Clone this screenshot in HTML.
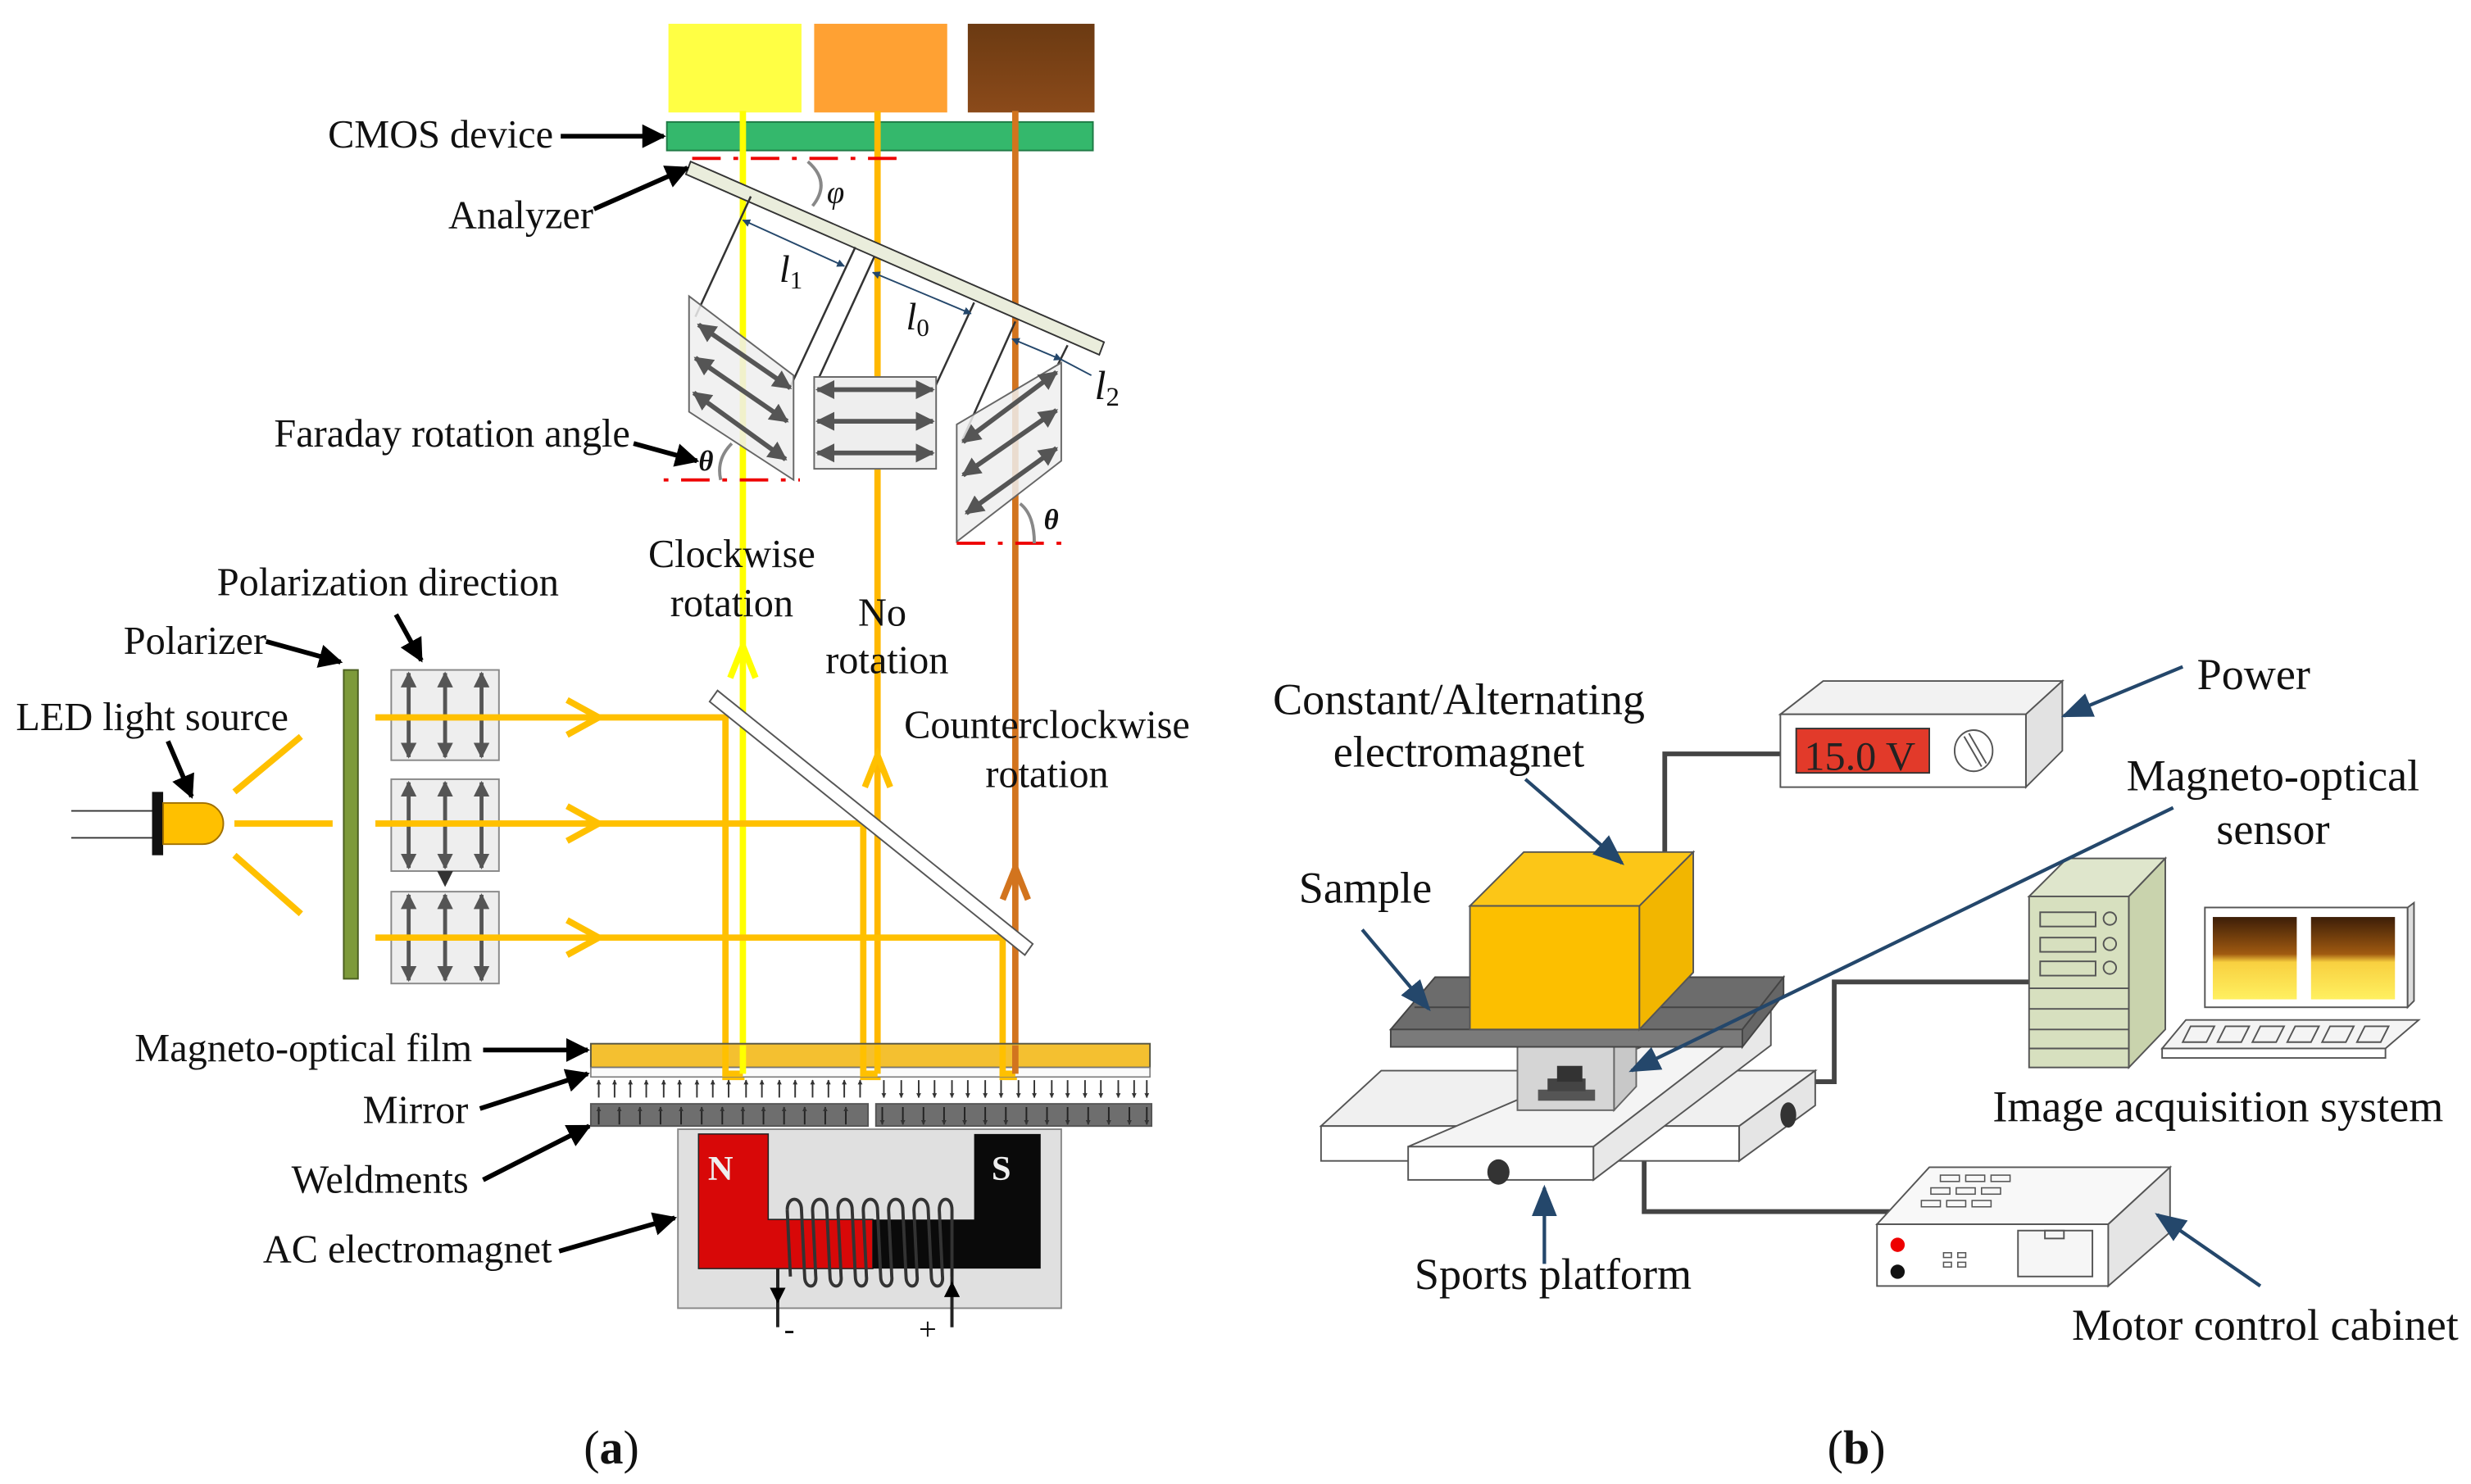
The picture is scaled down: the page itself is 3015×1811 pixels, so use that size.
<!DOCTYPE html>
<html><head><meta charset="utf-8"><style>
html,body{margin:0;padding:0;background:#fff}
svg{display:block}
text{font-family:"Liberation Serif",serif;fill:#111}
</style></head><body>
<svg width="3015" height="1811" viewBox="0 0 1560 937" xmlns="http://www.w3.org/2000/svg">
<defs>
<marker id="ab" viewBox="0 0 10 10" refX="9" refY="5" markerWidth="5" markerHeight="5" orient="auto-start-reverse"><path d="M0,0 L10,5 L0,10 z" fill="#000"/></marker>
<marker id="ag" viewBox="0 0 10 10" refX="9" refY="5" markerWidth="4" markerHeight="4" orient="auto-start-reverse"><path d="M0,0 L10,5 L0,10 z" fill="#555"/></marker>
<marker id="abl" viewBox="0 0 10 10" refX="9" refY="5" markerWidth="9" markerHeight="9" orient="auto-start-reverse"><path d="M0,1 L10,5 L0,9 z" fill="#24476b"/></marker>
<marker id="ad" viewBox="0 0 10 10" refX="9" refY="5" markerWidth="5" markerHeight="5" orient="auto-start-reverse"><path d="M0,0 L10,5 L0,10 z" fill="#24476b"/></marker>
<marker id="as" viewBox="0 0 10 10" refX="9" refY="5" markerWidth="3" markerHeight="3" orient="auto-start-reverse"><path d="M0,0 L10,5 L0,10 z" fill="#333"/></marker>
<linearGradient id="br" x1="0" y1="0" x2="0" y2="1"><stop offset="0" stop-color="#6b3a12"/><stop offset="1" stop-color="#8b4a1a"/></linearGradient>
<linearGradient id="scr" x1="0" y1="0" x2="0" y2="1"><stop offset="0" stop-color="#3d1e08"/><stop offset="0.45" stop-color="#a05a10"/><stop offset="0.55" stop-color="#f8d040"/><stop offset="1" stop-color="#fff060"/></linearGradient>
</defs>

<!-- ===== Panel (a) ===== -->
<rect x="422" y="15" width="84" height="56" fill="#ffff44"/>
<rect x="514" y="15" width="84" height="56" fill="#ffa133"/>
<rect x="611" y="15" width="80" height="56" fill="url(#br)"/>
<rect x="421" y="77" width="269" height="18" fill="#34b86c" stroke="#1e7a45" stroke-width="1"/>

<line x1="469" y1="70" x2="469" y2="680" stroke="#ffff00" stroke-width="4"/>
<line x1="554" y1="70" x2="554" y2="680" stroke="#ffb800" stroke-width="4"/>
<line x1="641" y1="70" x2="641" y2="680" stroke="#d2741e" stroke-width="4"/>

<line x1="437" y1="100" x2="568" y2="100" stroke="#e00" stroke-width="2" stroke-dasharray="18,8,3,8"/>
<path d="M510,102 Q525,115 513,130" fill="none" stroke="#888" stroke-width="2"/>
<text x="522" y="128" font-size="20" font-style="italic">φ</text>

<polygon points="436,102 697,216 694,224 433,110" fill="#eaeddc" stroke="#333" stroke-width="1"/>

<g stroke="#333" stroke-width="1.3" fill="none">
<line x1="474" y1="124" x2="439" y2="200"/>
<line x1="540" y1="156" x2="499" y2="244"/>
<line x1="552" y1="162" x2="514" y2="245"/>
<line x1="615" y1="191" x2="590" y2="245"/>
<line x1="641" y1="203" x2="607" y2="279"/>
<line x1="674" y1="218" x2="668" y2="230"/>
</g>
<line x1="469" y1="139" x2="533" y2="168" stroke="#24476b" stroke-width="1" marker-start="url(#ad)" marker-end="url(#ad)"/>
<line x1="551" y1="172" x2="613" y2="198" stroke="#24476b" stroke-width="1" marker-start="url(#ad)" marker-end="url(#ad)"/>
<line x1="639" y1="214" x2="670" y2="227" stroke="#24476b" stroke-width="1" marker-start="url(#ad)" marker-end="url(#ad)"/>
<line x1="670" y1="227" x2="689" y2="237" stroke="#24476b" stroke-width="1"/>
<text x="492" y="178" font-size="24" font-style="italic">l<tspan font-size="16" dy="4" font-style="normal">1</tspan></text>
<text x="572" y="208" font-size="24" font-style="italic">l<tspan font-size="16" dy="4" font-style="normal">0</tspan></text>
<text x="691" y="252" font-size="26" font-style="italic">l<tspan font-size="17" dy="4" font-style="normal">2</tspan></text>

<polygon points="435,187 501,237 501,303 435,260" fill="#eeeeee" fill-opacity="0.85" stroke="#666" stroke-width="1"/>
<g stroke="#555" stroke-width="3" marker-start="url(#ag)" marker-end="url(#ag)">
<line x1="441" y1="205" x2="499" y2="245"/>
<line x1="439" y1="226" x2="497" y2="266"/>
<line x1="438" y1="248" x2="496" y2="290"/>
</g>
<rect x="514" y="238" width="77" height="58" fill="#eeeeee" stroke="#666" stroke-width="1"/>
<g stroke="#555" stroke-width="3" marker-start="url(#ag)" marker-end="url(#ag)">
<line x1="516" y1="246" x2="589" y2="246"/>
<line x1="516" y1="266" x2="589" y2="266"/>
<line x1="516" y1="286" x2="589" y2="286"/>
</g>
<polygon points="604,268 670,229 670,291 604,342" fill="#eeeeee" fill-opacity="0.85" stroke="#666" stroke-width="1"/>
<g stroke="#555" stroke-width="3" marker-start="url(#ag)" marker-end="url(#ag)">
<line x1="608" y1="279" x2="667" y2="235"/>
<line x1="608" y1="300" x2="667" y2="259"/>
<line x1="610" y1="324" x2="667" y2="283"/>
</g>
<line x1="419" y1="303" x2="505" y2="303" stroke="#e00" stroke-width="2" stroke-dasharray="3,8,18,8"/>
<path d="M455,303 Q452,290 462,280" fill="none" stroke="#888" stroke-width="2"/>
<text x="441" y="297" font-size="18" font-style="italic" font-weight="bold">θ</text>
<line x1="604" y1="343" x2="677" y2="343" stroke="#e00" stroke-width="2" stroke-dasharray="18,8,3,8"/>
<path d="M653,343 Q653,325 644,318" fill="none" stroke="#888" stroke-width="2"/>
<text x="659" y="334" font-size="18" font-style="italic" font-weight="bold">θ</text>

<g font-size="25">
<text x="207" y="93">CMOS device</text>
<text x="283" y="144">Analyzer</text>
<text x="173" y="282">Faraday rotation angle</text>
<text x="462" y="358" text-anchor="middle">Clockwise</text>
<text x="462" y="389" text-anchor="middle">rotation</text>
<text x="557" y="395" text-anchor="middle">No</text>
<text x="560" y="425" text-anchor="middle">rotation</text>
<text x="661" y="466" text-anchor="middle">Counterclockwise</text>
<text x="661" y="497" text-anchor="middle">rotation</text>
<text x="137" y="376">Polarization direction</text>
<text x="78" y="413">Polarizer</text>
<text x="10" y="461">LED light source</text>
<text x="85" y="670">Magneto-optical film</text>
<text x="229" y="709">Mirror</text>
<text x="184" y="753">Weldments</text>
<text x="166" y="797">AC electromagnet</text>
</g>
<g stroke="#000" stroke-width="3" marker-end="url(#ab)">
<line x1="354" y1="86" x2="419" y2="86"/>
<line x1="375" y1="132" x2="434" y2="106"/>
<line x1="400" y1="280" x2="440" y2="291"/>
<line x1="250" y1="388" x2="266" y2="417"/>
<line x1="168" y1="405" x2="215" y2="418"/>
<line x1="106" y1="468" x2="121" y2="503"/>
<line x1="305" y1="663" x2="371" y2="663"/>
<line x1="303" y1="700" x2="371" y2="678"/>
<line x1="305" y1="745" x2="372" y2="711"/>
<line x1="353" y1="790" x2="426" y2="769"/>
</g>

<line x1="45" y1="512" x2="98" y2="512" stroke="#333" stroke-width="1"/>
<line x1="45" y1="529" x2="98" y2="529" stroke="#333" stroke-width="1"/>
<rect x="96" y="500" width="7" height="40" fill="#111"/>
<path d="M103,507 H128 A13,13 0 0 1 128,533 H103 Z" fill="#ffc000" stroke="#a07000" stroke-width="1"/>
<g stroke="#ffc000" stroke-width="4">
<line x1="148" y1="500" x2="190" y2="465"/>
<line x1="148" y1="520" x2="210" y2="520"/>
<line x1="148" y1="540" x2="190" y2="577"/>
</g>
<rect x="217" y="423" width="9" height="195" fill="#7d9a3a" stroke="#4a5e20" stroke-width="1"/>

<g>
<rect x="247" y="423" width="68" height="57" fill="#eee" stroke="#888"/>
<rect x="247" y="492" width="68" height="58" fill="#eee" stroke="#888"/>
<rect x="247" y="563" width="68" height="58" fill="#eee" stroke="#888"/>
</g>
<g stroke="#555" stroke-width="2.5" marker-start="url(#ag)" marker-end="url(#ag)">
<line x1="258" y1="425" x2="258" y2="478"/><line x1="281" y1="425" x2="281" y2="478"/><line x1="304" y1="425" x2="304" y2="478"/>
<line x1="258" y1="494" x2="258" y2="548"/><line x1="281" y1="494" x2="281" y2="548"/><line x1="304" y1="494" x2="304" y2="548"/>
<line x1="258" y1="565" x2="258" y2="619"/><line x1="281" y1="565" x2="281" y2="619"/><line x1="304" y1="565" x2="304" y2="619"/>
</g>
<polygon points="276,550 286,550 281,560" fill="#333"/>

<g stroke="#ffc000" stroke-width="4" fill="none">
<polyline points="237,453 458,453 458,680 470,680"/>
<polyline points="237,520 545,520 545,680 556,680"/>
<polyline points="237,592 633,592 633,680 642,680"/>
<polyline points="358,442 378,453 358,464"/>
<polyline points="358,509 378,520 358,531"/>
<polyline points="358,581 378,592 358,603"/>
</g>
<polygon points="453,436 652,596 647,603 448,443" fill="#fff" stroke="#555" stroke-width="1"/>
<g fill="none" stroke-width="4">
<polyline points="461,428 469,408 477,428" stroke="#ffff00"/>
<polyline points="546,497 554,477 562,497" stroke="#ffc000"/>
<polyline points="633,568 641,548 649,568" stroke="#d2741e"/>
</g>

<rect x="373" y="659" width="353" height="15" fill="#f4c030" stroke="#554" stroke-width="1"/>
<rect x="373" y="674" width="353" height="6" fill="#fafafa" stroke="#777" stroke-width="0.8"/>
<g stroke="#ffc000" stroke-width="4" fill="none">
<polyline points="458,660 458,678 469,678"/><polyline points="545,660 545,678 554,678"/><polyline points="633,660 633,678 641,678"/>
</g>
<line x1="469" y1="660" x2="469" y2="678" stroke="#ffff00" stroke-width="4"/>
<line x1="554" y1="660" x2="554" y2="678" stroke="#ffc000" stroke-width="4"/>
<line x1="641" y1="660" x2="641" y2="678" stroke="#d2741e" stroke-width="4"/>
<g stroke="#333" stroke-width="1" marker-end="url(#as)">
<line x1="378" y1="693" x2="378" y2="682"/><line x1="388" y1="693" x2="388" y2="682"/><line x1="398" y1="693" x2="398" y2="682"/><line x1="408" y1="693" x2="408" y2="682"/><line x1="419" y1="693" x2="419" y2="682"/><line x1="429" y1="693" x2="429" y2="682"/><line x1="440" y1="693" x2="440" y2="682"/><line x1="450" y1="693" x2="450" y2="682"/><line x1="460" y1="693" x2="460" y2="682"/><line x1="471" y1="693" x2="471" y2="682"/><line x1="481" y1="693" x2="481" y2="682"/><line x1="492" y1="693" x2="492" y2="682"/><line x1="502" y1="693" x2="502" y2="682"/><line x1="513" y1="693" x2="513" y2="682"/><line x1="523" y1="693" x2="523" y2="682"/><line x1="533" y1="693" x2="533" y2="682"/><line x1="543" y1="693" x2="543" y2="682"/>
</g>
<g stroke="#333" stroke-width="1" marker-end="url(#as)">
<line x1="558" y1="682" x2="558" y2="693"/><line x1="569" y1="682" x2="569" y2="693"/><line x1="580" y1="682" x2="580" y2="693"/><line x1="590" y1="682" x2="590" y2="693"/><line x1="601" y1="682" x2="601" y2="693"/><line x1="611" y1="682" x2="611" y2="693"/><line x1="622" y1="682" x2="622" y2="693"/><line x1="632" y1="682" x2="632" y2="693"/><line x1="643" y1="682" x2="643" y2="693"/><line x1="653" y1="682" x2="653" y2="693"/><line x1="664" y1="682" x2="664" y2="693"/><line x1="674" y1="682" x2="674" y2="693"/><line x1="685" y1="682" x2="685" y2="693"/><line x1="695" y1="682" x2="695" y2="693"/><line x1="706" y1="682" x2="706" y2="693"/><line x1="716" y1="682" x2="716" y2="693"/><line x1="724" y1="682" x2="724" y2="693"/>
</g>
<rect x="373" y="697" width="175" height="14" fill="#6e6e6e" stroke="#555"/>
<rect x="553" y="697" width="174" height="14" fill="#6e6e6e" stroke="#555"/>
<g stroke="#222" stroke-width="1" marker-end="url(#as)">
<line x1="378" y1="710" x2="378" y2="699"/><line x1="391" y1="710" x2="391" y2="699"/><line x1="404" y1="710" x2="404" y2="699"/><line x1="417" y1="710" x2="417" y2="699"/><line x1="430" y1="710" x2="430" y2="699"/><line x1="443" y1="710" x2="443" y2="699"/><line x1="456" y1="710" x2="456" y2="699"/><line x1="469" y1="710" x2="469" y2="699"/><line x1="482" y1="710" x2="482" y2="699"/><line x1="495" y1="710" x2="495" y2="699"/><line x1="508" y1="710" x2="508" y2="699"/><line x1="521" y1="710" x2="521" y2="699"/><line x1="534" y1="710" x2="534" y2="699"/>
<line x1="557" y1="699" x2="557" y2="710"/><line x1="570" y1="699" x2="570" y2="710"/><line x1="583" y1="699" x2="583" y2="710"/><line x1="596" y1="699" x2="596" y2="710"/><line x1="609" y1="699" x2="609" y2="710"/><line x1="622" y1="699" x2="622" y2="710"/><line x1="635" y1="699" x2="635" y2="710"/><line x1="648" y1="699" x2="648" y2="710"/><line x1="661" y1="699" x2="661" y2="710"/><line x1="674" y1="699" x2="674" y2="710"/><line x1="687" y1="699" x2="687" y2="710"/><line x1="700" y1="699" x2="700" y2="710"/><line x1="713" y1="699" x2="713" y2="710"/><line x1="724" y1="699" x2="724" y2="710"/>
</g>

<rect x="428" y="713" width="242" height="113" fill="#e0e0e0" stroke="#888" stroke-width="1"/>
<polygon points="441,716 485,716 485,770 551,770 551,801 441,801" fill="#d80808" stroke="#222" stroke-width="0.8"/>
<polygon points="615,716 657,716 657,801 551,801 551,770 615,770" fill="#0a0a0a"/>
<text x="447" y="745" font-size="22" font-weight="bold" style="fill:#eee">N</text>
<text x="626" y="745" font-size="22" font-weight="bold" style="fill:#eee">S</text>
<g fill="none" stroke="#333" stroke-width="2">
<path d="M497,764 C497,755 506,755 506,764 L508,806 C508,814 516,814 515,806 M515,806 L513,764 C513,755 522,755 522,764 L524,806 C524,814 532,814 531,806 L529,764 C529,755 538,755 538,764 L540,806 C540,814 548,814 547,806 L545,764 C545,755 554,755 554,764 L556,806 C556,814 564,814 563,806 L561,764 C561,755 570,755 570,764 L572,806 C572,814 580,814 579,806 L577,764 C577,755 586,755 586,764 L588,806 C588,814 596,814 595,806 L593,764 C593,755 601,755 601,764 L601,806"/>
<line x1="497" y1="764" x2="499" y2="806"/>
</g>
<line x1="491" y1="801" x2="491" y2="838" stroke="#222" stroke-width="2"/>
<line x1="491" y1="801" x2="491" y2="822" stroke="#222" stroke-width="2" marker-end="url(#ab)"/>
<line x1="601" y1="801" x2="601" y2="838" stroke="#222" stroke-width="2"/>
<line x1="601" y1="838" x2="601" y2="810" stroke="#222" stroke-width="2" marker-end="url(#ab)"/>
<text x="495" y="846" font-size="20">-</text>
<text x="580" y="846" font-size="20">+</text>

<text x="386" y="924" font-size="30" text-anchor="middle">(<tspan font-weight="bold">a</tspan>)</text>
<text x="1172" y="924" font-size="30" text-anchor="middle">(<tspan font-weight="bold">b</tspan>)</text>

<!-- ===== Panel (b) ===== -->
<polyline points="1126,476 1051,476 1051,540" fill="none" stroke="#444" stroke-width="3"/>
<polyline points="1029,683 1158,683 1158,620 1282,620" fill="none" stroke="#444" stroke-width="3"/>
<polyline points="1038,733 1038,765 1198,765" fill="none" stroke="#444" stroke-width="3"/>

<polygon points="1124,451 1151,430 1302,430 1279,451" fill="#f2f2f2" stroke="#555"/>
<polygon points="1279,451 1302,430 1302,474 1279,497" fill="#e2e2e2" stroke="#555"/>
<rect x="1124" y="451" width="155" height="46" fill="#fff" stroke="#555"/>
<rect x="1134" y="460" width="84" height="28" fill="#e23a2a" stroke="#333"/>
<text x="1139" y="486" font-size="26" style="fill:#222">15.0 V</text>
<ellipse cx="1246" cy="474" rx="12" ry="13" fill="#fff" stroke="#555"/>
<line x1="1240" y1="465" x2="1251" y2="484" stroke="#555"/><line x1="1243" y1="463" x2="1254" y2="482" stroke="#555"/>

<polygon points="834,711 872,676 1146,676 1098,711" fill="#f0f0f0" stroke="#555"/>
<rect x="834" y="711" width="264" height="22" fill="#fff" stroke="#555"/>
<polygon points="1098,711 1146,676 1146,698 1098,733" fill="#e5e5e5" stroke="#555"/>
<polygon points="889,724 1090,638 1118,638 1006,724" fill="#f4f4f4" stroke="#555"/>
<rect x="889" y="724" width="117" height="21" fill="#fff" stroke="#555"/>
<polygon points="1006,724 1118,638 1118,660 1006,745" fill="#e8e8e8" stroke="#555"/>
<ellipse cx="1129" cy="704" rx="5" ry="8" fill="#333"/>
<ellipse cx="946" cy="740" rx="7" ry="8" fill="#333"/>

<polygon points="958,660 972,646 1033,646 1019,660" fill="#ddd" stroke="#666"/>
<rect x="958" y="660" width="61" height="41" fill="#d5d5d5" stroke="#666"/>
<polygon points="1019,660 1033,646 1033,686 1019,701" fill="#c8c8c8" stroke="#666"/>
<rect x="971" y="688" width="36" height="7" fill="#555"/>
<rect x="977" y="681" width="24" height="8" fill="#444"/>
<rect x="983" y="673" width="16" height="10" fill="#333"/>
<polygon points="878,650 906,617 1126,617 1100,650" fill="#6c6c6c" stroke="#444"/>
<rect x="878" y="650" width="222" height="11" fill="#7a7a7a" stroke="#444"/>
<polygon points="1100,650 1126,617 1126,628 1100,661" fill="#666" stroke="#444"/>
<line x1="893" y1="636" x2="1112" y2="636" stroke="#444"/>
<polygon points="928,572 962,538 1069,538 1035,572" fill="#fcc617" stroke="#555"/>
<rect x="928" y="572" width="107" height="78" fill="#fcbf00" stroke="#555"/>
<polygon points="1035,572 1069,538 1069,614 1035,650" fill="#f2b600" stroke="#555"/>

<polygon points="1281,566 1305,542 1367,542 1344,566" fill="#dfe6cc" stroke="#555"/>
<rect x="1281" y="566" width="63" height="108" fill="#d7e0bf" stroke="#555"/>
<polygon points="1344,566 1367,542 1367,650 1344,674" fill="#c9d3ad" stroke="#555"/>
<rect x="1288" y="576" width="35" height="9" fill="#d7e0bf" stroke="#555"/><circle cx="1332" cy="580" r="4" fill="none" stroke="#555"/>
<rect x="1288" y="592" width="35" height="9" fill="#d7e0bf" stroke="#555"/><circle cx="1332" cy="596" r="4" fill="none" stroke="#555"/>
<rect x="1288" y="607" width="35" height="9" fill="#d7e0bf" stroke="#555"/><circle cx="1332" cy="611" r="4" fill="none" stroke="#555"/>
<line x1="1281" y1="624" x2="1344" y2="624" stroke="#555"/><line x1="1281" y1="637" x2="1344" y2="637" stroke="#555"/><line x1="1281" y1="650" x2="1344" y2="650" stroke="#555"/><line x1="1281" y1="662" x2="1344" y2="662" stroke="#555"/>
<rect x="1392" y="573" width="128" height="63" fill="#fff" stroke="#555"/>
<polygon points="1520,573 1524,570 1524,632 1520,636" fill="#ddd" stroke="#555"/>
<rect x="1397" y="579" width="53" height="52" fill="url(#scr)"/>
<rect x="1459" y="579" width="53" height="52" fill="url(#scr)"/>
<polygon points="1380,644 1527,644 1506,662 1365,662" fill="#f4f4f4" stroke="#555"/>
<rect x="1365" y="662" width="141" height="6" fill="#fff" stroke="#555"/>
<g fill="none" stroke="#555"><polygon points="1383,648 1398,648 1393,658 1378,658"/><polygon points="1405,648 1420,648 1415,658 1400,658"/><polygon points="1427,648 1442,648 1437,658 1422,658"/><polygon points="1449,648 1464,648 1459,658 1444,658"/><polygon points="1471,648 1486,648 1481,658 1466,658"/><polygon points="1493,648 1508,648 1503,658 1488,658"/></g>

<polygon points="1185,773 1218,737 1370,737 1331,773" fill="#f8f8f8" stroke="#555"/>
<rect x="1185" y="773" width="146" height="39" fill="#fff" stroke="#555"/>
<polygon points="1331,773 1370,737 1370,778 1331,812" fill="#e5e5e5" stroke="#555"/>
<g fill="none" stroke="#555" stroke-width="0.8"><rect x="1225" y="742" width="12" height="4"/><rect x="1241" y="742" width="12" height="4"/><rect x="1257" y="742" width="12" height="4"/><rect x="1219" y="750" width="12" height="4"/><rect x="1235" y="750" width="12" height="4"/><rect x="1251" y="750" width="12" height="4"/><rect x="1213" y="758" width="12" height="4"/><rect x="1229" y="758" width="12" height="4"/><rect x="1245" y="758" width="12" height="4"/>
<rect x="1227" y="791" width="5" height="3"/><rect x="1236" y="791" width="5" height="3"/><rect x="1227" y="797" width="5" height="3"/><rect x="1236" y="797" width="5" height="3"/></g>
<rect x="1274" y="777" width="47" height="29" fill="#f6f6f6" stroke="#555"/>
<rect x="1291" y="777" width="12" height="5" fill="none" stroke="#555"/>
<circle cx="1198" cy="786" r="4.5" fill="#e00"/>
<circle cx="1198" cy="803" r="4.5" fill="#111"/>

<g font-size="28">
<text x="921" y="451" text-anchor="middle">Constant/Alternating</text>
<text x="921" y="484" text-anchor="middle">electromagnet</text>
<text x="1387" y="435">Power</text>
<text x="1435" y="499" text-anchor="middle">Magneto-optical</text>
<text x="1435" y="533" text-anchor="middle">sensor</text>
<text x="820" y="570">Sample</text>
<text x="1258" y="708">Image acquisition system</text>
<text x="893" y="814">Sports platform</text>
<text x="1308" y="846">Motor control cabinet</text>
</g>
<g stroke="#24476b" stroke-width="2.2" marker-end="url(#abl)">
<line x1="963" y1="492" x2="1024" y2="545"/>
<line x1="1378" y1="421" x2="1303" y2="452"/>
<line x1="1372" y1="510" x2="1030" y2="676"/>
<line x1="860" y1="587" x2="902" y2="637"/>
<line x1="975" y1="798" x2="975" y2="750"/>
<line x1="1427" y1="812" x2="1362" y2="767"/>
</g>
</svg>
</body></html>
